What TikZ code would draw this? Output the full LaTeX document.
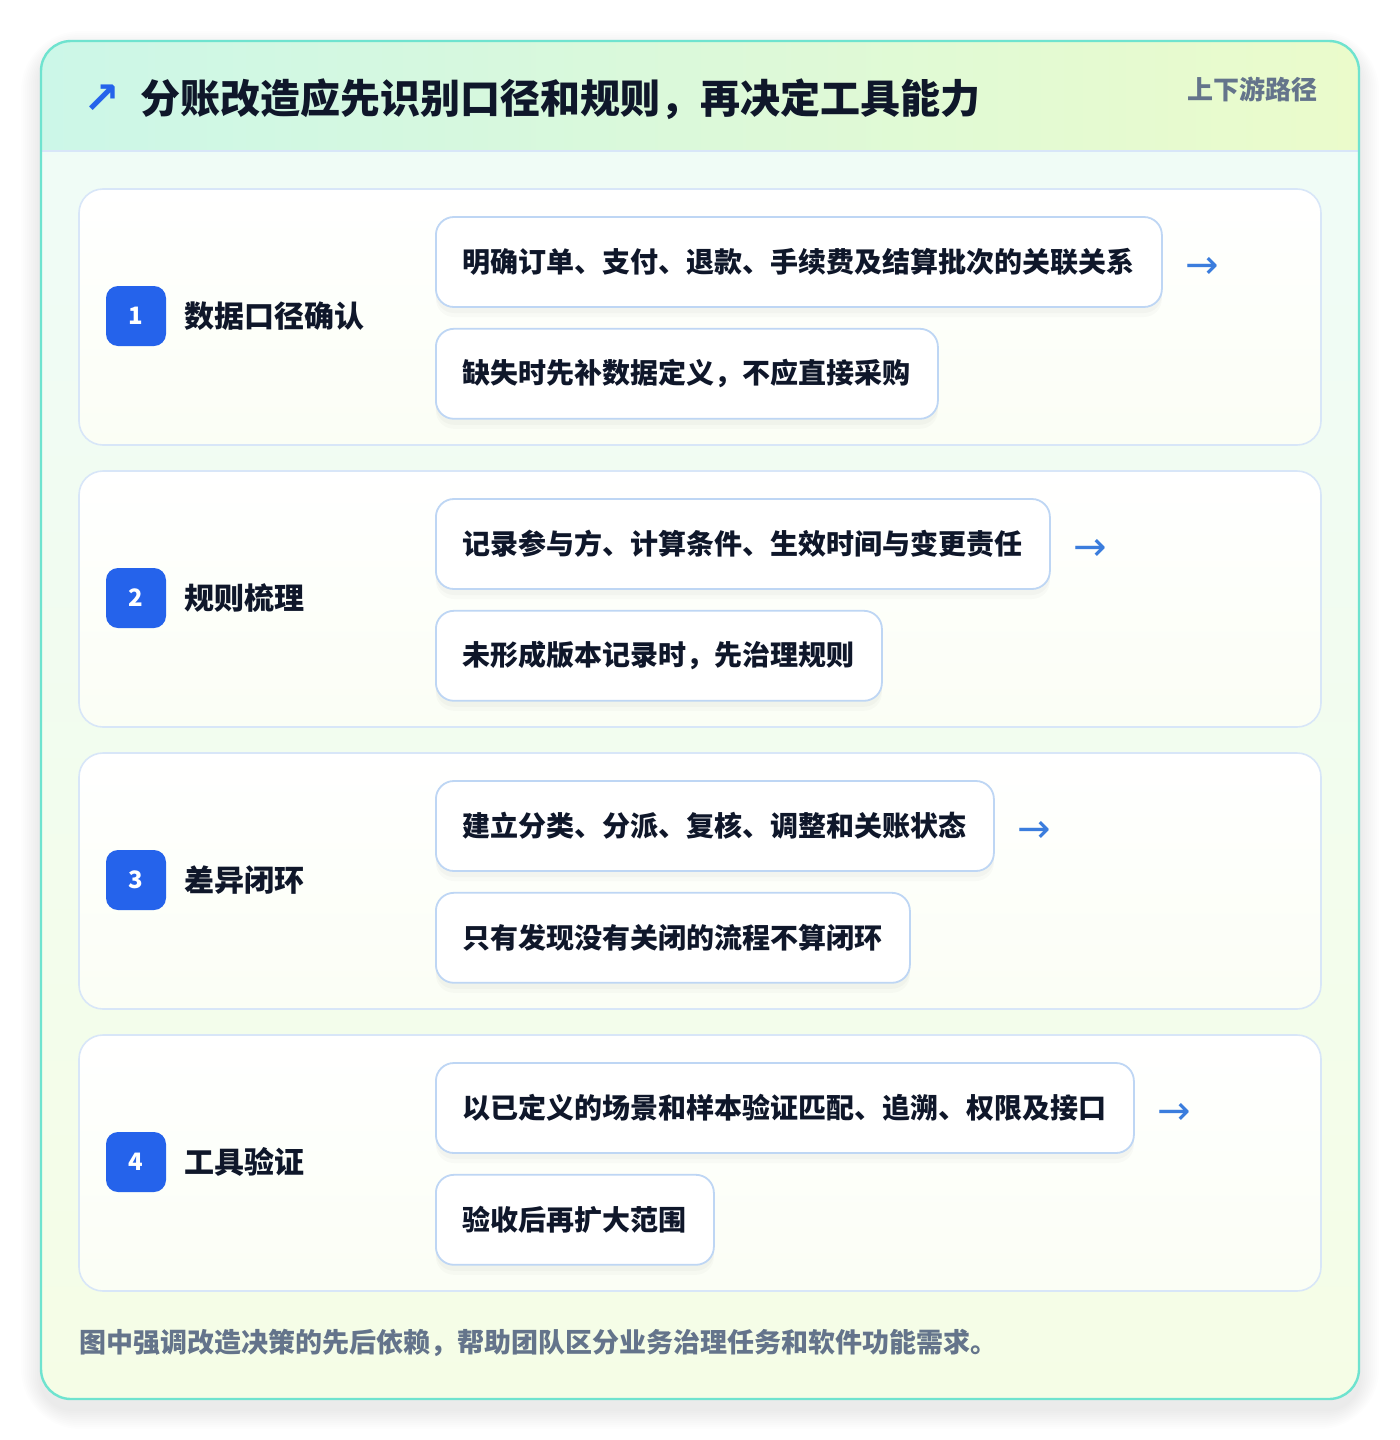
\documentclass[tikz,border=0pt]{standalone}
\usepackage{fontspec}
\setmainfont{Noto Sans CJK SC}
\newfontfamily\symfont{DejaVu Sans}
\usetikzlibrary{positioning}

\definecolor{ink}{HTML}{0F172A}
\definecolor{slate}{HTML}{64748B}
\definecolor{badgeblue}{HTML}{2563EB}
\definecolor{arrowblue}{HTML}{3B7DDD}
\definecolor{tealline}{HTML}{6FE3CF}
\definecolor{cardline}{HTML}{D8E6F8}
\definecolor{pillline}{HTML}{BED6F4}
\definecolor{headmint}{HTML}{CCF7E8}
\definecolor{headlime}{HTML}{EBFBCB}
\definecolor{bodytop}{HTML}{EFFCF8}
\definecolor{bodybot}{HTML}{F5FDE6}

\tikzset{
	card/.style={draw=cardline, line width=0.8pt, rounded corners=12pt, top color=white, bottom color=white!60!bodybot, minimum width=621pt, minimum height=128pt},
	badge/.style={fill=badgeblue, rounded corners=6pt, minimum size=30pt, inner sep=0pt, text=white, font=\bfseries\fontsize{12}{12}\selectfont},
	steplabel/.style={inner sep=0pt, text=ink, font=\bfseries\fontsize{15}{15}\selectfont},
	pill/.style={draw=pillline, line width=0.9pt, fill=white, rounded corners=9pt, minimum height=45pt, inner xsep=13.5pt, inner ysep=0pt, text=ink, font=\bfseries\fontsize{14}{14}\selectfont,
		preaction={fill=black, fill opacity=0.025, transform canvas={yshift=-3pt}},
		preaction={fill=black, fill opacity=0.02, transform canvas={yshift=-5pt}}},
	nextarrow/.style={inner sep=0pt, text=arrowblue, font=\symfont\fontsize{20}{20}\selectfont},
}

\begin{document}
\begin{tikzpicture}[x=0.5pt, y=-0.5pt]
	\useasboundingbox (0,0) rectangle (1400,1440);
	\fill[white] (0,0) rectangle (1400,1440);
	
	% soft shadow of the panel
	\foreach \g in {1,...,10}
		\fill[black, opacity=0.007, rounded corners=15pt+\g*1.5pt] (41-2*\g,51-2*\g) rectangle (1359+2*\g,1409+2*\g);
	
	% outer panel
	\fill[top color=bodytop, bottom color=bodybot, rounded corners=15pt] (41,41) rectangle (1359,1399);
	\begin{scope}
		\clip[rounded corners=15pt] (41,41) rectangle (1359,1399);
		\fill[left color=headmint, right color=headlime] (41,41) rectangle (1359,151);
		\draw[cardline, line width=0.8pt] (41,151) -- (1359,151);
	\end{scope}
	\draw[tealline, line width=1.2pt, rounded corners=15pt] (41,41) rectangle (1359,1399);
	
	\node[anchor=center, inner sep=0pt, text=badgeblue, font=\symfont\bfseries\fontsize{22}{22}\selectfont] (titlearrow) at (102,99) {↗};
	\node[anchor=west, inner sep=0pt, text=ink, font=\bfseries\fontsize{20}{20}\selectfont] (title) at (140,99) {分账改造应先识别口径和规则，再决定工具能力};
	\node[anchor=east, inner sep=0pt, text=slate, font=\bfseries\fontsize{13}{13}\selectfont] (route) at (1318,89) {上下游路径};
	
	% step 1
	\node[card] (row1) at (700,317) {};
	\node[badge] (badge1) at (136,316) {1};
	\node[steplabel, right=9pt of badge1] (lab1) {数据口径确认};
	\node[pill, anchor=west] (pa1) at (435,262) {明确订单、支付、退款、手续费及结算批次的关联关系};
	\node[pill, below right=10pt and 0pt of pa1.south west] (pb1) {缺失时先补数据定义，不应直接采购};
	\node[nextarrow, right=11pt of pa1, yshift=-3pt] (arr1) {→};
	
	% step 2
	\node[card] (row2) at (700,599) {};
	\node[badge] (badge2) at (136,598) {2};
	\node[steplabel, right=9pt of badge2] (lab2) {规则梳理};
	\node[pill, anchor=west] (pa2) at (435,544) {记录参与方、计算条件、生效时间与变更责任};
	\node[pill, below right=10pt and 0pt of pa2.south west] (pb2) {未形成版本记录时，先治理规则};
	\node[nextarrow, right=11pt of pa2, yshift=-3pt] (arr2) {→};
	
	% step 3
	\node[card] (row3) at (700,881) {};
	\node[badge] (badge3) at (136,880) {3};
	\node[steplabel, right=9pt of badge3] (lab3) {差异闭环};
	\node[pill, anchor=west] (pa3) at (435,826) {建立分类、分派、复核、调整和关账状态};
	\node[pill, below right=10pt and 0pt of pa3.south west] (pb3) {只有发现没有关闭的流程不算闭环};
	\node[nextarrow, right=11pt of pa3, yshift=-3pt] (arr3) {→};
	
	% step 4
	\node[card] (row4) at (700,1163) {};
	\node[badge] (badge4) at (136,1162) {4};
	\node[steplabel, right=9pt of badge4] (lab4) {工具验证};
	\node[pill, anchor=west] (pa4) at (435,1108) {以已定义的场景和样本验证匹配、追溯、权限及接口};
	\node[pill, below right=10pt and 0pt of pa4.south west] (pb4) {验收后再扩大范围};
	\node[nextarrow, right=11pt of pa4, yshift=-3pt] (arr4) {→};
	
	\node[anchor=west, inner sep=0pt, text=slate, font=\bfseries\fontsize{13.5}{13.5}\selectfont] (note) at (79,1343) {图中强调改造决策的先后依赖，帮助团队区分业务治理任务和软件功能需求。};
\end{tikzpicture}
\end{document}
